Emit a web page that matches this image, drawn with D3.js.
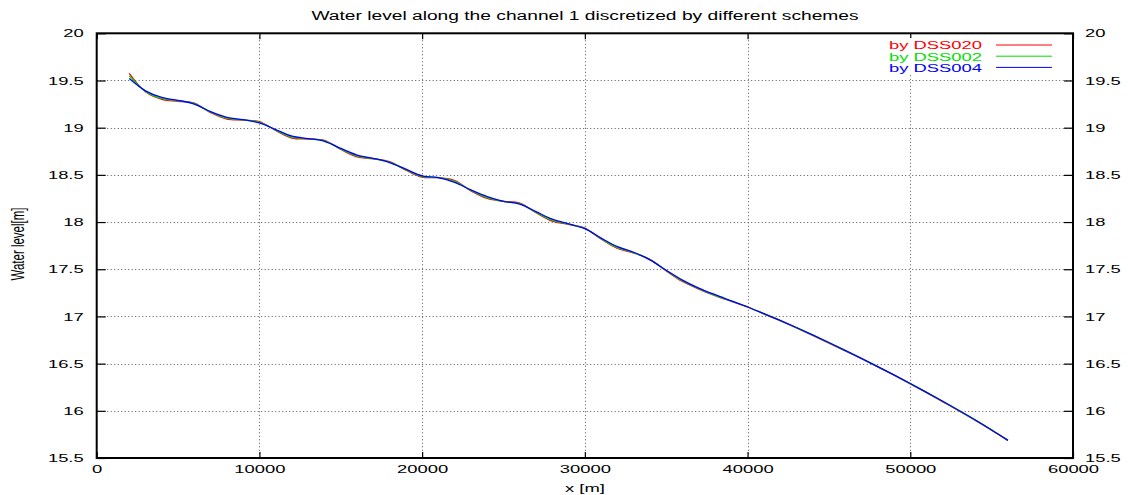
<!DOCTYPE html>
<html>
<head>
<meta charset="utf-8">
<script src="https://cdn.jsdelivr.net/npm/d3@7"></script>
<style>
  body { margin: 0; background: #fff; }
  text { font-family: "Liberation Sans", Arial, sans-serif; fill: #000; }
</style>
</head>
<body>
<svg id="chart" width="1128" height="495"></svg>
<script>
'use strict';

// distance along the channel [m]
const distance = [2000, 3000, 4000, 5000, 6000, 7000, 8000, 9000, 10000, 11000,
  12000, 13000, 14000, 15000, 16000, 17000, 18000, 19000, 20000, 21000,
  22000, 23000, 24000, 25000, 26000, 27000, 28000, 29000, 30000, 31000,
  32000, 33000, 34000, 35000, 36000, 37000, 38000, 39000, 40000, 41000,
  42000, 43000, 44000, 45000, 46000, 47000, 48000, 49000, 50000, 51000,
  52000, 53000, 54000, 55000, 56000];

// water level [m] for each scheme
const dss020 = [19.575, 19.38, 19.30, 19.28, 19.26, 19.16, 19.09, 19.08, 19.065, 18.97,
  18.89, 18.88, 18.865, 18.77, 18.69, 18.67, 18.64, 18.55, 18.475, 18.47,
  18.44, 18.33, 18.25, 18.22, 18.20, 18.10, 18.01, 17.975, 17.935, 17.82,
  17.72, 17.672, 17.605, 17.482, 17.37, 17.29, 17.22, 17.16, 17.10, 17.028,
  16.955, 16.878, 16.798, 16.716, 16.634, 16.552, 16.466, 16.377, 16.286, 16.192,
  16.095, 15.998, 15.899, 15.795, 15.687];
const dss002 = [19.55, 19.385, 19.31, 19.285, 19.255, 19.165, 19.10, 19.083, 19.057, 18.975,
  18.90, 18.883, 18.86, 18.775, 18.70, 18.672, 18.635, 18.555, 18.482, 18.47,
  18.43, 18.335, 18.26, 18.22, 18.195, 18.105, 18.02, 17.977, 17.932, 17.825,
  17.73, 17.676, 17.602, 17.487, 17.378, 17.293, 17.222, 17.162, 17.10, 17.029,
  16.957, 16.881, 16.802, 16.721, 16.638, 16.554, 16.468, 16.379, 16.288, 16.195,
  16.099, 16.001, 15.901, 15.796, 15.687];
const dss004 = [19.52, 19.39, 19.32, 19.29, 19.25, 19.17, 19.11, 19.085, 19.05, 18.98,
  18.91, 18.885, 18.855, 18.78, 18.71, 18.675, 18.63, 18.56, 18.49, 18.47,
  18.42, 18.34, 18.27, 18.22, 18.19, 18.11, 18.03, 17.98, 17.93, 17.83,
  17.74, 17.68, 17.60, 17.49, 17.385, 17.30, 17.23, 17.165, 17.10, 17.03,
  16.958, 16.883, 16.805, 16.724, 16.641, 16.556, 16.469, 16.38, 16.289, 16.196,
  16.101, 16.003, 15.902, 15.797, 15.687];

const seriesNames = ["by DSS020", "by DSS002", "by DSS004"];
const xTicks = [0, 10000, 20000, 30000, 40000, 50000, 60000];
const yTicks = [15.5, 16, 16.5, 17, 17.5, 18, 18.5, 19, 19.5, 20];

const seriesColors = ["#ff0000", "#00e000", "#0000ff"];

// the original picture was stretched sideways, so text gets the same stretch
const sx = 1.6;
function stretch(sel) {
  sel.each(function() {
    let t = d3.select(this);
    let x = +t.attr("x") || 0;
    t.attr("x", x / sx).attr("transform", `scale(${sx},1)`);
  });
}

const svg = d3.select("#chart");
const plotLeft = 96.7, plotRight = 1073, plotTop = 33.3, plotBottom = 458;

const x = d3.scaleLinear().domain([0, 60000]).range([plotLeft, plotRight]);
const y = d3.scaleLinear().domain([15.5, 20]).range([plotBottom, plotTop]);

// grid
const grid = svg.append("g").attr("class", "grid")
  .attr("stroke", "#555").attr("stroke-width", 1).attr("stroke-dasharray", "1,2.5");
grid.selectAll(".gx").data(xTicks.slice(1, -1)).enter().append("line")
  .attr("x1", d => Math.round(x(d)) + 0.5).attr("x2", d => Math.round(x(d)) + 0.5)
  .attr("y1", plotTop).attr("y2", plotBottom);
grid.selectAll(".gy").data(yTicks.slice(1, -1)).enter().append("line")
  .attr("x1", plotLeft).attr("x2", plotRight)
  .attr("y1", d => Math.round(y(d)) + 0.5).attr("y2", d => Math.round(y(d)) + 0.5);

// axes, ticks pointing inward like gnuplot
const fontSize = "11.5px";
const axLeft = svg.append("g").attr("transform", `translate(${plotLeft},0)`)
  .call(d3.axisLeft(y).tickValues(yTicks).tickFormat(d3.format("")).tickSize(-9).tickPadding(13));
const axRight = svg.append("g").attr("transform", `translate(${plotRight},0)`)
  .call(d3.axisRight(y).tickValues(yTicks).tickFormat(d3.format("")).tickSize(-9).tickPadding(12));
const axBottom = svg.append("g").attr("transform", `translate(0,${plotBottom})`)
  .call(d3.axisBottom(x).tickValues(xTicks).tickFormat(d3.format("")).tickSize(-6).tickPadding(4));
const axTop = svg.append("g").attr("transform", `translate(0,${plotTop})`)
  .call(d3.axisTop(x).tickValues(xTicks).tickFormat("").tickSize(-6));

[axLeft, axRight, axBottom, axTop].forEach(a => {
  a.select(".domain").remove();
  a.selectAll(".tick line").attr("stroke", "#000").attr("stroke-width", 1.2);
  a.selectAll("text").style("font-size", fontSize).attr("fill", "#000").call(stretch);
});
axBottom.selectAll("text").attr("dy", "1em");

// frame
svg.append("rect")
  .attr("x", plotLeft).attr("y", plotTop)
  .attr("width", plotRight - plotLeft).attr("height", plotBottom - plotTop)
  .attr("fill", "none").attr("stroke", "#000").attr("stroke-width", 2);

// curves
const line = d3.line()
  .x((d, i) => x(distance[i]))
  .y(d => y(d))
  .curve(d3.curveCatmullRom.alpha(0.5));

[dss020, dss002, dss004].forEach((s, i) => {
  svg.append("path")
    .datum(s)
    .attr("fill", "none")
    .attr("stroke", seriesColors[i])
    .attr("stroke-width", 1.3)
    .attr("d", line);
});

// legend, its text hides the grid line behind it
const legend = svg.append("g").attr("class", "legend");
legend.append("rect")
  .attr("x", 882).attr("y", 38)
  .attr("width", 100).attr("height", 37)
  .attr("fill", "#fff");
seriesNames.forEach((name, i) => {
  let base = 49.5 + i * 11.2;
  legend.append("text")
    .attr("x", 982).attr("y", base)
    .attr("text-anchor", "end")
    .style("font-size", fontSize)
    .style("fill", seriesColors[i])
    .text(name)
    .call(stretch);
  legend.append("line")
    .attr("x1", 996).attr("x2", 1052)
    .attr("y1", base - 4.5).attr("y2", base - 4.5)
    .attr("stroke", seriesColors[i]).attr("stroke-width", 1);
});

// titles
svg.append("text")
  .attr("x", 585).attr("y", 20)
  .attr("text-anchor", "middle")
  .style("font-size", "12px")
  .text("Water level along the channel 1 discretized by different schemes")
  .call(stretch);

svg.append("text")
  .attr("x", 585).attr("y", 492)
  .attr("text-anchor", "middle")
  .style("font-size", fontSize)
  .text("x [m]")
  .call(stretch);

svg.append("text")
  .attr("transform", `translate(24,244) rotate(-90) scale(1,${sx})`)
  .attr("text-anchor", "middle")
  .style("font-size", fontSize)
  .text("Water level[m]");
</script>
</body>
</html>
